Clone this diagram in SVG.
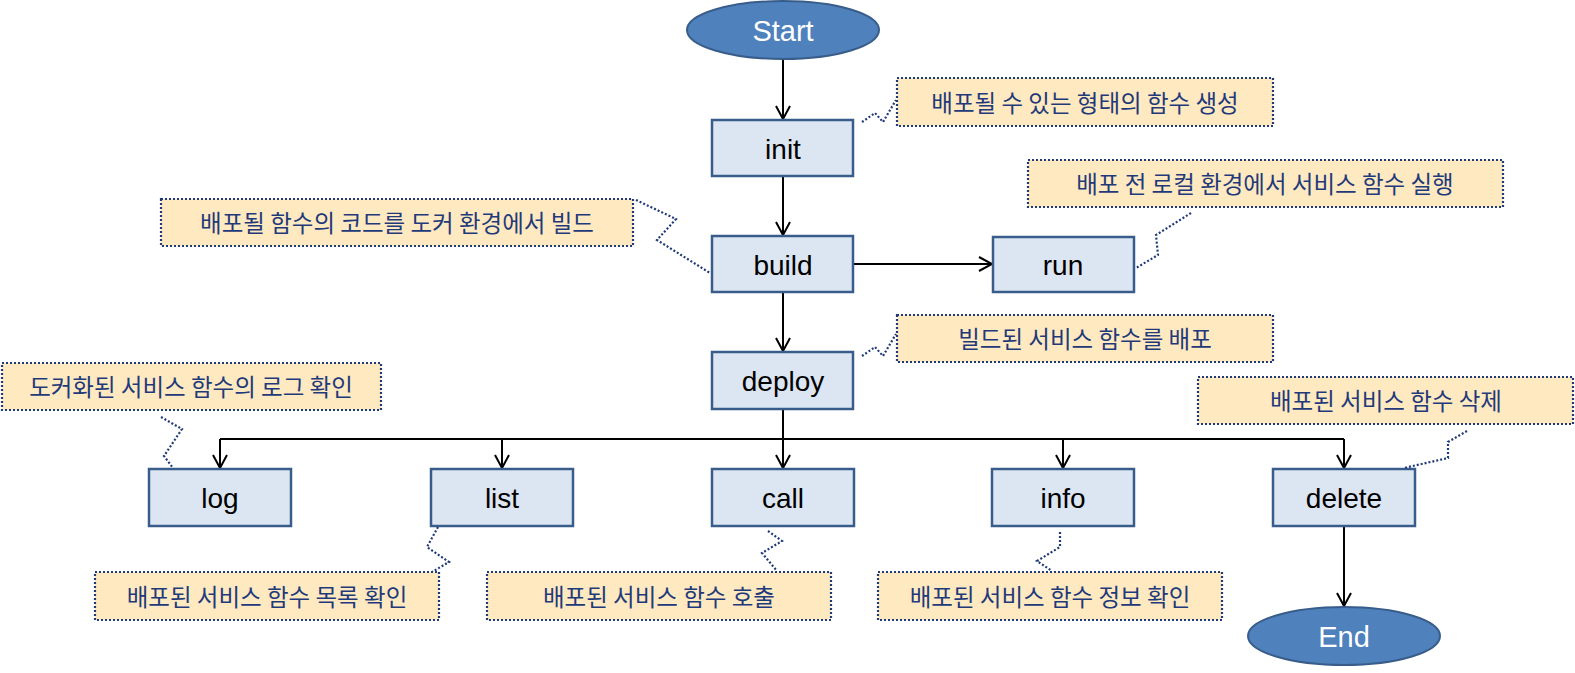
<svg xmlns="http://www.w3.org/2000/svg" width="1575" height="673" viewBox="0 0 1575 673">
<defs>
<marker id="arr" markerWidth="16" markerHeight="16" refX="14" refY="8" orient="auto" markerUnits="userSpaceOnUse">
<path d="M1,1 L14,8 L1,15" fill="none" stroke="#000" stroke-width="2"/>
</marker>
<style>
.box{fill:#DCE6F2;stroke:#385D8A;stroke-width:2.5}
.ell{fill:#4F81BD;stroke:#385D8A;stroke-width:2}
.bt{font-family:"Liberation Sans",Arial,sans-serif;font-size:28px;fill:#000;text-anchor:middle;dominant-baseline:central}
.et{font-family:"Liberation Sans",Arial,sans-serif;font-size:29px;fill:#fff;text-anchor:middle;dominant-baseline:central}
.co{fill:#FFE9C0;stroke:#1F3A7A;stroke-width:2.2;stroke-dasharray:2 2}
.ct{font-family:"Noto Sans CJK KR","Noto Sans",sans-serif;font-size:23.5px;fill:#1F3A7A;text-anchor:middle;dominant-baseline:central}
.tail{fill:none;stroke:#1F3A7A;stroke-width:2.2;stroke-dasharray:2 2}
.ln{fill:none;stroke:#000;stroke-width:2}
</style>
</defs>
<g id="connectors">
<line class="ln" x1="783" y1="59" x2="783" y2="119" marker-end="url(#arr)"/>
<line class="ln" x1="783" y1="176" x2="783" y2="235" marker-end="url(#arr)"/>
<line class="ln" x1="853" y1="264" x2="992" y2="264" marker-end="url(#arr)"/>
<line class="ln" x1="783" y1="292" x2="783" y2="351" marker-end="url(#arr)"/>
<line class="ln" x1="783" y1="409" x2="783" y2="439"/>
<line class="ln" x1="220" y1="439" x2="1344" y2="439"/>
<line class="ln" x1="220" y1="439" x2="220" y2="468" marker-end="url(#arr)"/>
<line class="ln" x1="502" y1="439" x2="502" y2="468" marker-end="url(#arr)"/>
<line class="ln" x1="783" y1="439" x2="783" y2="468" marker-end="url(#arr)"/>
<line class="ln" x1="1063" y1="439" x2="1063" y2="468" marker-end="url(#arr)"/>
<line class="ln" x1="1344" y1="439" x2="1344" y2="468" marker-end="url(#arr)"/>
<line class="ln" x1="1344" y1="526" x2="1344" y2="606" marker-end="url(#arr)"/>
</g>
<g id="start"><ellipse class="ell" cx="783" cy="30" rx="96" ry="29"/><text class="et" x="783" y="31">Start</text></g>
<g id="end"><ellipse class="ell" cx="1344" cy="636" rx="96" ry="29"/><text class="et" x="1344" y="637">End</text></g>
<g id="init"><rect class="box" x="712" y="120" width="141" height="56"/><text class="bt" x="783" y="149">init</text></g>
<g id="build"><rect class="box" x="712" y="236" width="141" height="56"/><text class="bt" x="783" y="265">build</text></g>
<g id="run"><rect class="box" x="993" y="237" width="141" height="55"/><text class="bt" x="1063" y="265">run</text></g>
<g id="deploy"><rect class="box" x="712" y="352" width="141" height="57"/><text class="bt" x="783" y="381">deploy</text></g>
<g id="log"><rect class="box" x="149" y="469" width="142" height="57"/><text class="bt" x="220" y="498">log</text></g>
<g id="list"><rect class="box" x="431" y="469" width="142" height="57"/><text class="bt" x="502" y="498">list</text></g>
<g id="call"><rect class="box" x="712" y="469" width="142" height="57"/><text class="bt" x="783" y="498">call</text></g>
<g id="info"><rect class="box" x="992" y="469" width="142" height="57"/><text class="bt" x="1063" y="498">info</text></g>
<g id="delete"><rect class="box" x="1273" y="469" width="142" height="57"/><text class="bt" x="1344" y="498">delete</text></g>
<g id="note-init"><polyline class="tail" points="862,122 875,113 883,122 896,100"/><rect class="co" x="897" y="78" width="376" height="48"/><text class="ct" x="1085" y="102">배포될 수 있는 형태의 함수 생성</text></g>
<g id="note-build"><polyline class="tail" points="636,200 676,219 657,240 710,273"/><rect class="co" x="161" y="199" width="472" height="47"/><text class="ct" x="397" y="222">배포될 함수의 코드를 도커 환경에서 빌드</text></g>
<g id="note-run"><polyline class="tail" points="1191,213 1156,235 1158,255 1136,268"/><rect class="co" x="1028" y="160" width="475" height="47"/><text class="ct" x="1265" y="183">배포 전 로컬 환경에서 서비스 함수 실행</text></g>
<g id="note-deploy"><polyline class="tail" points="862,356 875,347 883,356 896,334"/><rect class="co" x="897" y="315" width="376" height="47"/><text class="ct" x="1085" y="338">빌드된 서비스 함수를 배포</text></g>
<g id="note-log"><polyline class="tail" points="161,417 182,429 164,456 173,468"/><rect class="co" x="2" y="363" width="379" height="47"/><text class="ct" x="191" y="386">도커화된 서비스 함수의 로그 확인</text></g>
<g id="note-delete"><polyline class="tail" points="1467,431 1448,442 1448,458 1404,468"/><rect class="co" x="1198" y="377" width="375" height="47"/><text class="ct" x="1386" y="400">배포된 서비스 함수 삭제</text></g>
<g id="note-list"><polyline class="tail" points="438,527 427,547 449,562 432,572"/><rect class="co" x="95" y="572" width="344" height="48"/><text class="ct" x="267" y="596">배포된 서비스 함수 목록 확인</text></g>
<g id="note-call"><polyline class="tail" points="768,531 782,541 762,553 777,571"/><rect class="co" x="487" y="572" width="344" height="48"/><text class="ct" x="659" y="596">배포된 서비스 함수 호출</text></g>
<g id="note-info"><polyline class="tail" points="1060,532 1060,547 1037,561 1052,571"/><rect class="co" x="878" y="572" width="344" height="48"/><text class="ct" x="1050" y="596">배포된 서비스 함수 정보 확인</text></g>
</svg>
